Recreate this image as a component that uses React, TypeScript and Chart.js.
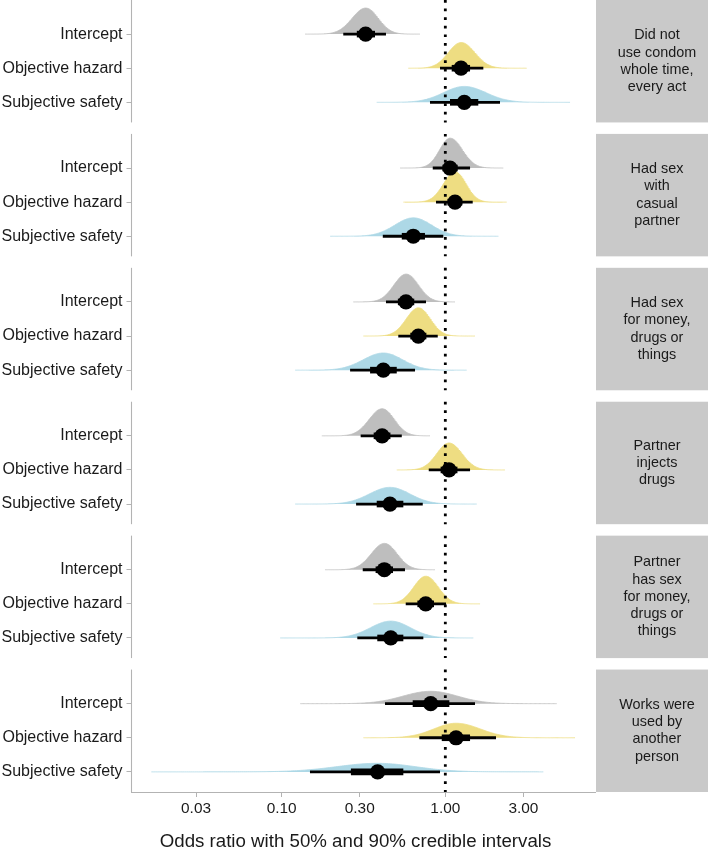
import React, { useEffect, useRef } from "react";
import { Chart, registerables } from "chart.js";

Chart.register(...registerables);

const FONT = "'Liberation Sans', Arial, Helvetica, sans-serif";

// ---------- data ----------
const terms = ["Intercept", "Objective hazard", "Subjective safety"];
const termColors = ["#BEBEBE", "#EEDD82", "#ADD8E6"];

const stripLabels = [
  ["Did not", "use condom", "whole time,", "every act"],
  ["Had sex", "with", "casual", "partner"],
  ["Had sex", "for money,", "drugs or", "things"],
  ["Partner", "injects", "drugs"],
  ["Partner", "has sex", "for money,", "drugs or", "things"],
  ["Works were", "used by", "another", "person"],
];

const xTicks = [0.03, 0.1, 0.3, 1, 3];
const xTitle = "Odds ratio with 50% and 90% credible intervals";

// rows in panel order; within each panel: Intercept, Objective hazard, Subjective safety
const median = [
  0.326, 1.247, 1.306,
  1.068, 1.146, 0.637,
  0.575, 0.684, 0.418,
  0.411, 1.053, 0.459,
  0.424, 0.759, 0.464,
  0.814, 1.163, 0.386,
];
const lo50 = [
  0.288, 1.094, 1.068,
  0.96, 1.03, 0.542,
  0.513, 0.611, 0.347,
  0.365, 0.936, 0.381,
  0.375, 0.675, 0.384,
  0.632, 0.951, 0.265,
];
const hi50 = [
  0.372, 1.416, 1.59,
  1.19, 1.27, 0.751,
  0.646, 0.766, 0.505,
  0.462, 1.186, 0.554,
  0.479, 0.853, 0.554,
  1.058, 1.416, 0.554,
];
const lo90 = [
  0.238, 0.928, 0.806,
  0.838, 0.877, 0.415,
  0.434, 0.516, 0.262,
  0.304, 0.792, 0.285,
  0.313, 0.573, 0.29,
  0.428, 0.694, 0.149,
];
const hi90 = [
  0.434, 1.707, 2.158,
  1.416, 1.47, 0.972,
  0.762, 0.899, 0.653,
  0.542, 1.416, 0.728,
  0.567, 1.01, 0.734,
  1.518, 2.04, 0.928,
];
const slabMin = [
  0.139, 0.594, 0.381,
  0.529, 0.554, 0.198,
  0.274, 0.316, 0.121,
  0.176, 0.505, 0.121,
  0.184, 0.363, 0.098,
  0.13, 0.316, 0.016,
];
const slabMax = [
  0.7, 3.14, 5.78,
  2.26, 2.37, 2.11,
  1.146, 1.518, 1.35,
  0.806, 2.316, 1.555,
  0.865, 1.63, 1.483,
  4.79, 6.2, 3.97,
];

// ---------- layout constants ----------
const W = 708;
const H = 855;
const X_MIN = 0.01202;
const X_MAX = 8.21;
const PANEL_STEP = 3.926;
const PANEL_H = 3.59;
const ROW0 = 1.0;
const Y_MAX = 5 * PANEL_STEP + PANEL_H;
const SLAB_AREA = 0.152;

const nPanels = stripLabels.length;
const rowY = (i: number) => Math.floor(i / 3) * PANEL_STEP + ROW0 + (i % 3);
const rowPositions = median.map((_, i) => rowY(i));

function slabPoints(i: number) {
  const m = Math.log10(median[i]);
  const sdL = (m - Math.log10(lo90[i])) / 1.645;
  const sdR = (Math.log10(hi90[i]) - m) / 1.645;
  const peak = (SLAB_AREA * 2) / (Math.sqrt(2 * Math.PI) * (sdL + sdR));
  const a = Math.log10(slabMin[i]);
  const b = Math.log10(slabMax[i]);
  const base = rowY(i);
  const pts: { x: number; y: number }[] = [];
  const N = 200;
  for (let k = 0; k <= N; k++) {
    const t = a + ((b - a) * k) / N;
    const sd = t < m ? sdL : sdR;
    const h = peak * Math.exp(-0.5 * ((t - m) / sd) ** 2);
    pts.push({ x: Math.pow(10, t), y: base - h });
  }
  return pts;
}

const facetPlugin = {
  id: "facets",
  beforeDatasetsDraw(chart: any) {
    const { ctx, chartArea, scales } = chart;
    const y = scales.y;
    ctx.save();
    ctx.strokeStyle = "#b3b3b3";
    ctx.lineWidth = 1.1;
    for (let p = 0; p < nPanels; p++) {
      const t = y.getPixelForValue(p * PANEL_STEP);
      const b = y.getPixelForValue(p * PANEL_STEP + PANEL_H);
      ctx.beginPath();
      ctx.moveTo(chartArea.left + 0.5, t);
      ctx.lineTo(chartArea.left + 0.5, b);
      ctx.stroke();
    }
    ctx.restore();
  },
  afterDraw(chart: any) {
    const { ctx, chartArea, scales } = chart;
    const y = scales.y;
    ctx.save();
    for (let p = 0; p < nPanels; p++) {
      const t = y.getPixelForValue(p * PANEL_STEP);
      const b = y.getPixelForValue(p * PANEL_STEP + PANEL_H);
      const left = chartArea.right + 1;
      ctx.fillStyle = "#c9c9c9";
      ctx.fillRect(left, t, W + 20 - left, b - t);
      const lines = stripLabels[p];
      const lh = 17.3;
      const cy = (t + b) / 2;
      const cx = 657;
      ctx.fillStyle = "#1a1a1a";
      ctx.font = `14.4px ${FONT}`;
      ctx.textAlign = "center";
      ctx.textBaseline = "middle";
      lines.forEach((ln, k) => {
        ctx.fillText(ln, cx, cy + (k - (lines.length - 1) / 2) * lh);
      });
    }
    ctx.fillStyle = "#1a1a1a";
    ctx.font = `18.7px ${FONT}`;
    ctx.textAlign = "center";
    ctx.textBaseline = "middle";
    ctx.fillText(xTitle, 355.5, 842);
    ctx.restore();
  },
};

export default function App() {
  const ref = useRef<HTMLCanvasElement>(null);

  useEffect(() => {
    if (!ref.current) return;
    const datasets: any[] = [];

    // points
    datasets.push({
      type: "scatter",
      data: median.map((v, i) => ({ x: v, y: rowY(i) })),
      backgroundColor: "#000",
      borderWidth: 0,
      pointRadius: 7.6,
      order: 0,
    });

    median.forEach((_, i) => {
      const yy = rowY(i);
      datasets.push({
        type: "line",
        data: [
          { x: lo50[i], y: yy },
          { x: hi50[i], y: yy },
        ],
        borderColor: "#000",
        borderWidth: 6.6,
        borderCapStyle: "butt",
        pointRadius: 0,
        fill: false,
        order: 1,
      });
      datasets.push({
        type: "line",
        data: [
          { x: lo90[i], y: yy },
          { x: hi90[i], y: yy },
        ],
        borderColor: "#000",
        borderWidth: 2.8,
        borderCapStyle: "butt",
        pointRadius: 0,
        fill: false,
        order: 2,
      });
      const col = termColors[i % 3];
      datasets.push({
        type: "line",
        data: slabPoints(i),
        borderColor: col,
        backgroundColor: col,
        borderWidth: 0.8,
        pointRadius: 0,
        tension: 0,
        fill: { value: yy },
        order: 4,
      });
    });

    for (let p = 0; p < nPanels; p++) {
      datasets.push({
        type: "line",
        data: [
          { x: 1, y: p * PANEL_STEP },
          { x: 1, y: p * PANEL_STEP + PANEL_H },
        ],
        borderColor: "#000",
        borderWidth: 2.8,
        borderDash: [2.7, 5.9],
        borderCapStyle: "butt",
        pointRadius: 0,
        fill: false,
        order: 3,
      });
    }

    const chart = new Chart(ref.current, {
      type: "line",
      data: { datasets },
      plugins: [facetPlugin],
      options: {
        animation: false,
        responsive: false,
        maintainAspectRatio: false,
        layout: { autoPadding: false, padding: { left: 0, right: W - 595, top: 0, bottom: 0 } },
        plugins: {
          legend: { display: false },
          tooltip: { enabled: false },
          title: { display: false },
        },
        scales: {
          x: {
            type: "logarithmic",
            min: X_MIN,
            max: X_MAX,
            afterBuildTicks: (s: any) => {
              s.ticks = xTicks.map((v) => ({ value: v }));
            },
            afterFit: (s: any) => {
              s.height = H - 792;
              s.paddingLeft = 0;
              s.paddingRight = 0;
            },
            ticks: {
              autoSkip: false,
              maxRotation: 0,
              padding: 3,
              color: "#1a1a1a",
              font: { family: FONT, size: 15.4 },
              callback: (v: any) => Number(v).toFixed(2),
            },
            grid: {
              drawOnChartArea: false,
              drawTicks: true,
              tickLength: 5,
              color: "#b3b3b3",
              lineWidth: 1,
            },
            border: { display: true, color: "#b3b3b3", width: 1 },
          },
          y: {
            type: "linear",
            reverse: true,
            min: 0,
            max: Y_MAX,
            afterBuildTicks: (s: any) => {
              s.ticks = rowPositions.map((v) => ({ value: v }));
            },
            afterFit: (s: any) => {
              s.width = 131;
              s.paddingTop = 0;
              s.paddingBottom = 0;
            },
            ticks: {
              autoSkip: false,
              padding: 4,
              color: "#1a1a1a",
              font: { family: FONT, size: 16 },
              callback: (_v: any, i: number) => terms[i % 3],
            },
            grid: {
              drawOnChartArea: false,
              drawTicks: true,
              tickLength: 4.5,
              color: "#b3b3b3",
              lineWidth: 1,
            },
            border: { display: false },
          },
        },
      },
    } as any);

    return () => chart.destroy();
  }, []);

  return (
    <div style={{ position: "absolute", left: 0, top: 0, width: W, height: H, background: "#fff" }}>
      <canvas ref={ref} width={W} height={H} style={{ display: "block" }} />
    </div>
  );
}
